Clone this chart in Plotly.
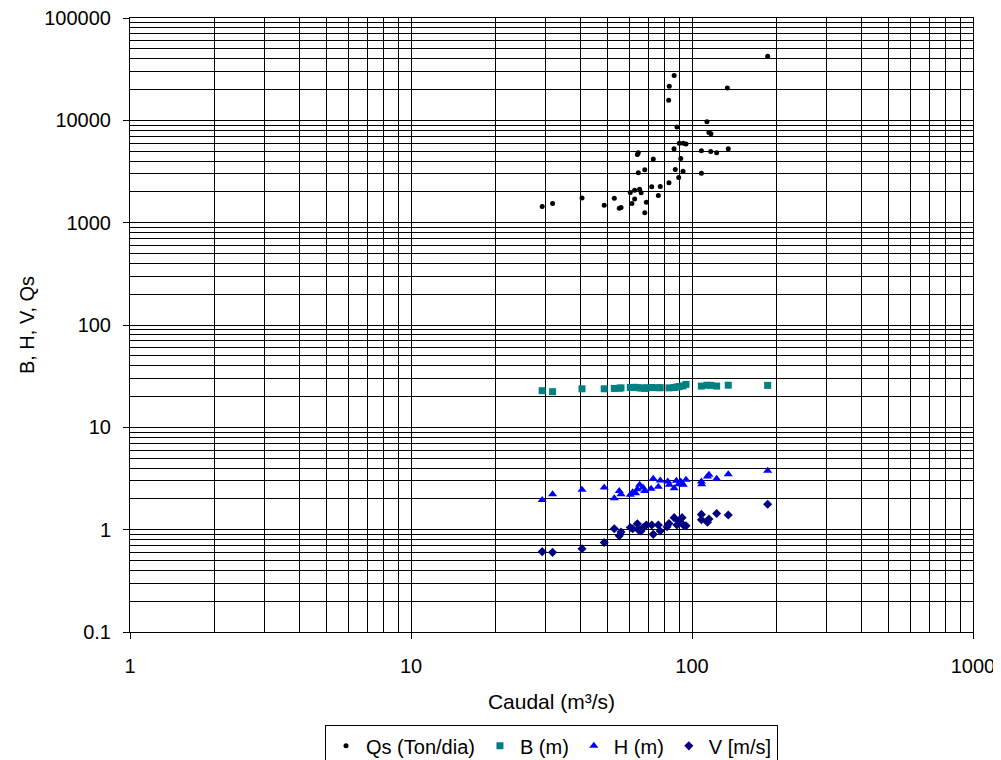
import plotly.graph_objects as go

# Qs (Ton/dia)
qs_x = [29.3, 31.9, 40.6, 48.7, 52.9, 55.1, 55.9, 60.3, 61.1, 62.5, 62.5, 63.9, 64.4, 64.4, 65.1,
        65.9, 67.9, 67.9, 68.8, 71.9, 72.8, 75.9, 77.1, 82.8, 82.6, 83.0, 86.4, 86.3, 87.2, 88.4,
        89.7, 90.1, 91.2, 92.9, 93.1, 95.2, 108.0, 108.0, 113.0, 114.9, 116.8, 116.6, 122.4,
        133.6, 134.6, 185.9]
qs_y = [1435, 1536, 1746, 1479, 1730, 1380, 1403, 1968, 1536, 2075, 1708, 4645, 4822, 3070, 2122,
        1955, 3287, 1253, 1581, 2239, 4178, 1841, 2254, 2449, 15700, 21540, 27400, 5280, 3310, 8600,
        2762, 5987, 4240, 3185, 5987, 5860, 5045, 3043, 9710, 7620, 7410, 4966, 4822,
        20740, 5280, 42400]

# B (m)
b_x = [29.3, 31.9, 40.6, 48.7, 52.9, 55.1, 55.9, 60.3, 62.5, 64.4, 65.9, 67.9, 68.8, 71.9,
       75.9, 77.1, 82.8, 86.4, 88.4, 90.1, 92.9, 95.2, 108.0, 113.0, 116.8, 122.4, 134.6, 185.9]
b_y = [22.8, 22.3, 23.8, 23.8, 24.0, 24.1, 24.3, 24.5, 24.6, 24.4, 24.2, 24.0, 24.4, 24.5,
       24.4, 24.4, 24.3, 24.5, 24.8, 25.0, 25.4, 26.3, 25.3, 25.8, 25.7, 25.3, 25.8, 25.7]

# H (m)
h_x = [29.3, 31.9, 40.6, 48.7, 52.9, 55.1, 55.9, 60.3, 61.5, 63.0, 63.9, 65.1, 66.9, 67.9,
       71.5, 72.8, 75.9, 77.1, 82.0, 83.0, 86.4, 88.0, 89.7, 91.2, 93.1, 95.2, 108.0, 108.3,
       113.5, 114.9, 122.4, 134.6, 185.9]
h_y = [1.95, 2.22, 2.45, 2.58, 2.03, 2.39, 2.22, 2.19, 2.32, 2.27, 2.48, 2.74, 2.58, 2.39,
       2.51, 3.14, 2.62, 3.02, 2.95, 2.74, 2.54, 3.00, 2.78, 2.95, 2.74, 3.07, 2.95, 2.78,
       3.31, 3.44, 3.14, 3.48, 3.76]

# V [m/s]
v_x = [29.3, 31.9, 40.6, 48.7, 52.9, 55.1, 55.9, 60.3, 61.5, 63.9, 64.4, 65.9, 67.0, 68.8,
       71.9, 72.8, 75.9, 77.1, 81.5, 82.8, 86.4, 88.4, 89.7, 92.2, 93.1, 95.2, 108.0, 108.0,
       113.5, 114.9, 122.4, 134.6, 185.9]
v_y = [0.61, 0.60, 0.65, 0.75, 1.02, 0.87, 0.95, 1.05, 1.02, 1.14, 1.00, 0.97, 1.05, 1.11,
       1.11, 0.90, 1.11, 0.97, 1.07, 1.15, 1.31, 1.11, 1.22, 1.31, 1.11, 1.09, 1.41, 1.25,
       1.18, 1.27, 1.44, 1.39, 1.77]

x_major = [1, 10, 100, 1000]
x_major_labels = ["1", "10", "100", "1000"]
y_major = [0.1, 1, 10, 100, 1000, 10000, 100000]
y_major_labels = ["0.1", "1", "10", "100", "1000", "10000", "100000"]

def minor_vals(lo_exp, hi_exp):
    vals = []
    for e in range(lo_exp, hi_exp):
        for d in range(2, 10):
            vals.append(d * 10 ** e)
    return vals

fig = go.Figure()
fig.add_trace(go.Scatter(x=qs_x, y=qs_y, mode="markers", name="Qs (Ton/dia)",
                         marker=dict(symbol="circle", size=5, color="black")))
fig.add_trace(go.Scatter(x=b_x, y=b_y, mode="markers", name="B (m)",
                         marker=dict(symbol="square", size=7, color="#008080")))
fig.add_trace(go.Scatter(x=h_x, y=h_y, mode="markers", name="H (m)",
                         marker=dict(symbol="triangle-up", size=8, color="#0000FF")))
fig.add_trace(go.Scatter(x=v_x, y=v_y, mode="markers", name="V [m/s]",
                         marker=dict(symbol="diamond", size=7, color="#000080")))

font = dict(family="Liberation Sans, Arial, sans-serif", size=20, color="black")

fig.update_layout(
    width=1001, height=760,
    margin=dict(l=122, r=36, t=10, b=136, autoexpand=False),
    paper_bgcolor="white", plot_bgcolor="white",
    font=font,
    showlegend=True,
    legend=dict(orientation="h", x=0.5, xanchor="center", y=-0.152, yanchor="top",
                bordercolor="black", borderwidth=1, font=dict(size=20),
                itemwidth=30, tracegroupgap=0),
)
fig.update_xaxes(
    type="log", range=[0, 3], automargin=False,
    tickmode="array", tickvals=x_major, ticktext=x_major_labels,
    showgrid=True, gridcolor="black", gridwidth=1,
    showline=True, linecolor="black", linewidth=1, mirror=True,
    ticks="outside", ticklen=6, tickcolor="black", ticklabelstandoff=10,
    ticklabeloverflow="allow",
    minor=dict(tickmode="array", tickvals=minor_vals(0, 3), showgrid=True,
               gridcolor="black", gridwidth=1, ticks=""),
    zeroline=False,
    title=dict(text="Caudal (m³/s)", standoff=18, font=dict(size=21)),
)
fig.update_yaxes(
    type="log", range=[-1, 5], automargin=False,
    tickmode="array", tickvals=y_major, ticktext=y_major_labels,
    showgrid=True, gridcolor="black", gridwidth=1,
    showline=True, linecolor="black", linewidth=1, mirror=True,
    ticks="outside", ticklen=6, tickcolor="black", ticklabelstandoff=8,
    ticklabeloverflow="allow",
    minor=dict(tickmode="array", tickvals=minor_vals(-1, 5), showgrid=True,
               gridcolor="black", gridwidth=1, ticks=""),
    zeroline=False,
    title=dict(text="B, H, V, Qs", standoff=4, font=dict(size=20)),
)

fig.write_html("out.html")
